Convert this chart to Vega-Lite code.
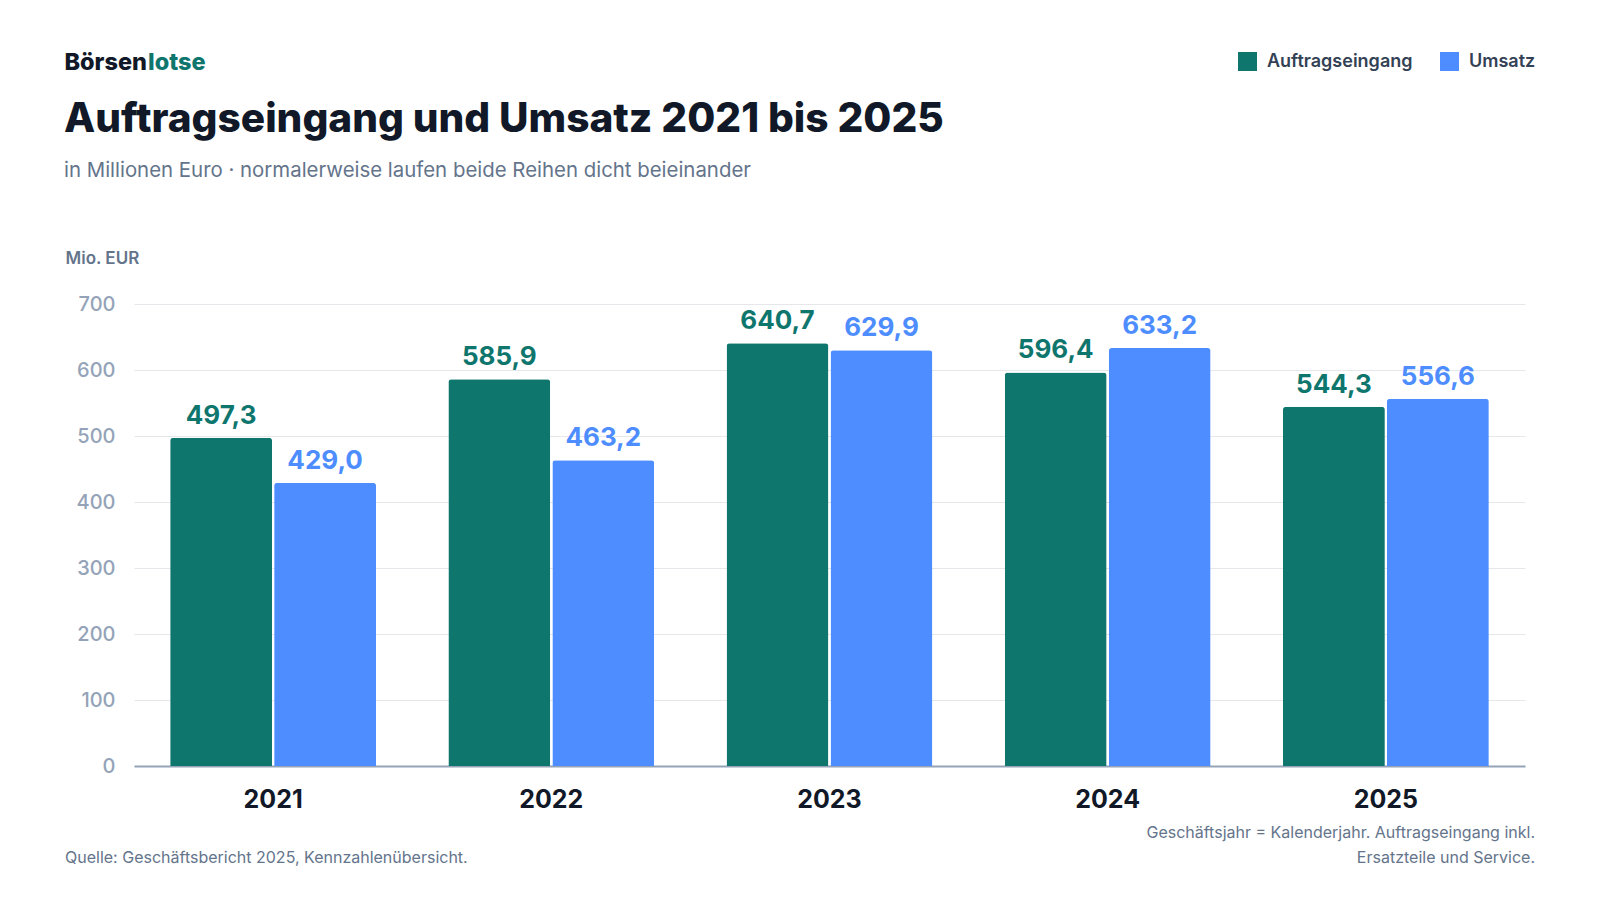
{
  "$schema": "https://vega.github.io/schema/vega-lite/v6.json",
  "width": 1402,
  "height": 462,
  "autosize": "none",
  "padding": {"left": 124, "top": 304, "right": 74, "bottom": 134},
  "background": "white",
  "config": {
    "font": "Inter",
    "view": {"stroke": null},
    "locale": {"number": {"decimal": ",", "thousands": ".", "grouping": [3], "currency": ["", " €"]}}
  },
  "datasets": {
    "bars": [
      {"year": "2021", "series": "Auftragseingang", "value": 497.3},
      {"year": "2021", "series": "Umsatz", "value": 429.0},
      {"year": "2022", "series": "Auftragseingang", "value": 585.9},
      {"year": "2022", "series": "Umsatz", "value": 463.2},
      {"year": "2023", "series": "Auftragseingang", "value": 640.7},
      {"year": "2023", "series": "Umsatz", "value": 629.9},
      {"year": "2024", "series": "Auftragseingang", "value": 596.4},
      {"year": "2024", "series": "Umsatz", "value": 633.2},
      {"year": "2025", "series": "Auftragseingang", "value": 544.3},
      {"year": "2025", "series": "Umsatz", "value": 556.6}
    ]
  },
  "layer": [
    {
      "data": {"name": "bars"},
      "mark": {"type": "bar", "cornerRadiusTopLeft": 3, "cornerRadiusTopRight": 3},
      "encoding": {
        "x": {
          "field": "year", "type": "nominal",
          "scale": {"range": [10, 1401], "paddingInner": 0.26, "paddingOuter": 0.13},
          "axis": {
            "title": null, "labelAngle": 0, "labelFontSize": 25, "labelFontWeight": 700,
            "labelColor": "#111827", "labelPadding": 21, "ticks": false,
            "domainColor": "#94a3b8", "domainWidth": 2
          }
        },
        "xOffset": {"field": "series", "type": "nominal", "scale": {"paddingInner": 0.02}},
        "y": {
          "field": "value", "type": "quantitative",
          "scale": {"domain": [0, 700], "nice": false},
          "axis": {
            "values": [0, 100, 200, 300, 400, 500, 600, 700],
            "title": "Mio. EUR", "titleAngle": 0, "titleAlign": "left", "titleBaseline": "middle",
            "titleX": -59, "titleY": -46, "titleFontSize": 17, "titleFontWeight": 600, "titleColor": "#64748b",
            "labelFontSize": 20, "labelFontWeight": 500, "labelColor": "#94a3b8", "labelPadding": 9,
            "ticks": false, "domain": false, "gridColor": "#e5e7eb", "gridWidth": 1
          }
        },
        "color": {
          "field": "series", "type": "nominal",
          "scale": {"domain": ["Auftragseingang", "Umsatz"], "range": ["#0f766e", "#4d8dff"]},
          "legend": {
            "title": null, "orient": "none", "direction": "horizontal",
            "legendX": 1114, "legendY": -252, "symbolType": "square", "symbolSize": 361,
            "symbolStrokeWidth": 0, "labelFontSize": 18, "labelFontWeight": 600, "labelColor": "#334155",
            "columnPadding": 27, "labelOffset": 10
          }
        }
      }
    },
    {
      "data": {"name": "bars"},
      "mark": {"type": "text", "baseline": "alphabetic", "dy": -14, "fontSize": 26, "fontWeight": 700},
      "encoding": {
        "x": {"field": "year", "type": "nominal"},
        "xOffset": {"field": "series", "type": "nominal"},
        "y": {"field": "value", "type": "quantitative"},
        "text": {"field": "value", "type": "quantitative", "format": ",.1f"},
        "color": {"field": "series", "type": "nominal"}
      }
    },
    {
      "data": {"values": [{"t": "Börsen"}]},
      "mark": {"type": "text", "align": "right", "baseline": "alphabetic", "fontSize": 23.5, "fontWeight": 800, "color": "#111827", "x": 23, "y": -234},
      "encoding": {"text": {"field": "t"}}
    },
    {
      "data": {"values": [{"t": "lotse"}]},
      "mark": {"type": "text", "align": "left", "baseline": "alphabetic", "fontSize": 23.5, "fontWeight": 800, "color": "#0f766e", "x": 24, "y": -234},
      "encoding": {"text": {"field": "t"}}
    },
    {
      "data": {"values": [{"t": "Auftragseingang und Umsatz 2021 bis 2025"}]},
      "mark": {"type": "text", "align": "left", "baseline": "alphabetic", "fontSize": 40.6, "fontWeight": 800, "color": "#111827", "x": -60, "y": -172},
      "encoding": {"text": {"field": "t"}}
    },
    {
      "data": {"values": [{"t": "in Millionen Euro · normalerweise laufen beide Reihen dicht beieinander"}]},
      "mark": {"type": "text", "align": "left", "baseline": "alphabetic", "fontSize": 20.4, "fontWeight": 400, "color": "#64748b", "x": -60, "y": -127},
      "encoding": {"text": {"field": "t"}}
    },
    {
      "data": {"values": [{"t": "Quelle: Geschäftsbericht 2025, Kennzahlenübersicht."}]},
      "mark": {"type": "text", "align": "left", "baseline": "alphabetic", "fontSize": 16, "color": "#64748b", "x": -59, "y": 559},
      "encoding": {"text": {"field": "t"}}
    },
    {
      "data": {"values": [{"t": ["Geschäftsjahr = Kalenderjahr. Auftragseingang inkl.", "Ersatzteile und Service."]}]},
      "mark": {"type": "text", "align": "right", "baseline": "alphabetic", "fontSize": 16, "color": "#64748b", "x": 1411, "y": 534, "lineHeight": 24.5},
      "encoding": {"text": {"field": "t"}}
    }
  ]
}
